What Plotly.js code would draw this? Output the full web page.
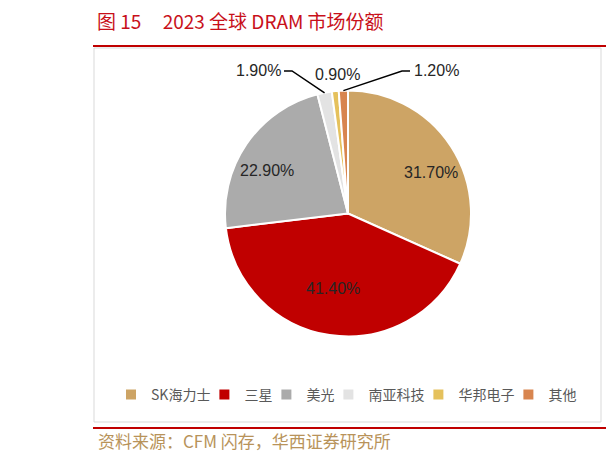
<!DOCTYPE html>
<html>
<head>
<meta charset="utf-8">
<script src="https://cdn.plot.ly/plotly-3.0.1.min.js"></script>
<style>
  body { margin: 0; background: #fff; }
  #chart { width: 606px; height: 459px; }
</style>
</head>
<body>
<div id="chart"></div>
<script>
// market share 2023, %
const companies = ["SK海力士", "三星", "美光", "南亚科技", "华邦电子", "其他"];
const shares = [31.7, 41.4, 22.9, 1.9, 0.9, 1.2];
const colors = ["#CDA465", "#C00000", "#ABABAB", "#E3E3E3", "#E5C15C", "#D8854F"];

const W = 606;
const H = 459;
// pixel -> paper helpers (margins are zero, so paper == page)
const px = (x) => x / W;
const py = (y) => 1 - y / H;

const numFont = "Liberation Sans, Arial, sans-serif";
const cjkFont = "Noto Sans CJK SC, sans-serif";

// pie placement in pixels
const cx = 348;
const cy = 213.5;
const R = 123;

// point at radii (rx, ry) along the middle of slice i (clockwise from 12 o'clock)
function slicePoint(i, rx, ry = rx) {
  const total = shares.reduce((a, b) => a + b, 0);
  let before = 0;
  for (let k = 0; k < i; k++) before += shares[k];
  const theta = ((before + shares[i] / 2) / total) * 2 * Math.PI;
  return [cx + rx * Math.sin(theta), cy - ry * Math.cos(theta)];
}

const pct = (i) => shares[i].toFixed(2) + "%";
const labelFont = { family: numFont, size: 16, color: "#262626" };

// labels for the three big slices, Excel-style (wider than tall)
const insideText = [0, 1, 2].map((i) => {
  const [x, y] = slicePoint(i, R * 0.8, R * 0.62);
  return {
    text: pct(i), xref: "paper", yref: "paper",
    x: px(x), y: py(y), xanchor: "center", yanchor: "middle",
    showarrow: false, font: labelFont,
  };
});

// callouts for the small slices: [slice, label x, label y, line start x, elbow x]
const callouts = [
  [3, 258, 71, 284, 292],
  [4, 337, 75, null, null],
  [5, 436, 71, 410, 402],
];

const calloutText = callouts.map(([i, x, y]) => ({
  text: pct(i), xref: "paper", yref: "paper",
  x: px(x), xanchor: "center",
  y: py(y), yanchor: "middle",
  showarrow: false, font: labelFont,
}));

const calloutLines = callouts
  .filter((c) => c[3] !== null)
  .map(([i, x, y, start, elbow]) => {
    const [rx, ry] = slicePoint(i, R);
    return {
      type: "path", xref: "paper", yref: "paper",
      path: `M${px(start)},${py(y)} L${px(elbow)},${py(y)} L${px(rx)},${py(ry)}`,
      line: { color: "#000000", width: 1.5 },
    };
  });

Plotly.newPlot(
  "chart",
  [
    {
      type: "pie",
      labels: companies,
      values: shares,
      sort: false,
      direction: "clockwise",
      rotation: 0,
      marker: { colors, line: { color: "#ffffff", width: 2 } },
      textinfo: "none",
      hoverinfo: "label+value",
      domain: { x: [px(cx - R), px(cx + R)], y: [py(cy + R), py(cy - R)] },
    },
  ],
  {
    width: W,
    height: H,
    margin: { l: 0, r: 0, t: 0, b: 0, autoexpand: false },
    paper_bgcolor: "#ffffff",
    title: {
      text: "图 15\u00a0\u00a0\u00a0\u00a0\u00a02023 全球 DRAM 市场份额",
      font: { family: cjkFont, size: 19, color: "#C8101A" },
      x: px(97),
      xanchor: "left",
      y: py(22),
      yanchor: "middle",
    },
    showlegend: true,
    legend: {
      orientation: "h",
      x: px(352),
      xanchor: "center",
      y: py(395),
      yanchor: "middle",
      indentation: -11,
      font: { family: cjkFont, size: 14, color: "#595959" },
      traceorder: "normal",
    },
    shapes: [
      // chart frame
      {
        type: "rect", xref: "paper", yref: "paper",
        x0: px(94), x1: px(601), y0: py(422), y1: py(48),
        line: { color: "#D9D9D9", width: 1 },
      },
      // red rule above
      {
        type: "line", xref: "paper", yref: "paper",
        x0: px(93), x1: 1, y0: py(46), y1: py(46),
        line: { color: "#C00000", width: 2 },
      },
      // red rule below
      {
        type: "line", xref: "paper", yref: "paper",
        x0: px(93), x1: 1, y0: py(428), y1: py(428),
        line: { color: "#C00000", width: 2 },
      },
      ...calloutLines,
    ],
    annotations: [
      ...insideText,
      ...calloutText,
      {
        text: "资料来源：CFM 闪存，华西证券研究所",
        xref: "paper", yref: "paper",
        x: px(96), xanchor: "left",
        y: py(440), yanchor: "middle",
        showarrow: false,
        font: { family: cjkFont, size: 17, color: "#B8935A" },
      },
    ],
  },
  { staticPlot: true }
);
</script>
</body>
</html>
